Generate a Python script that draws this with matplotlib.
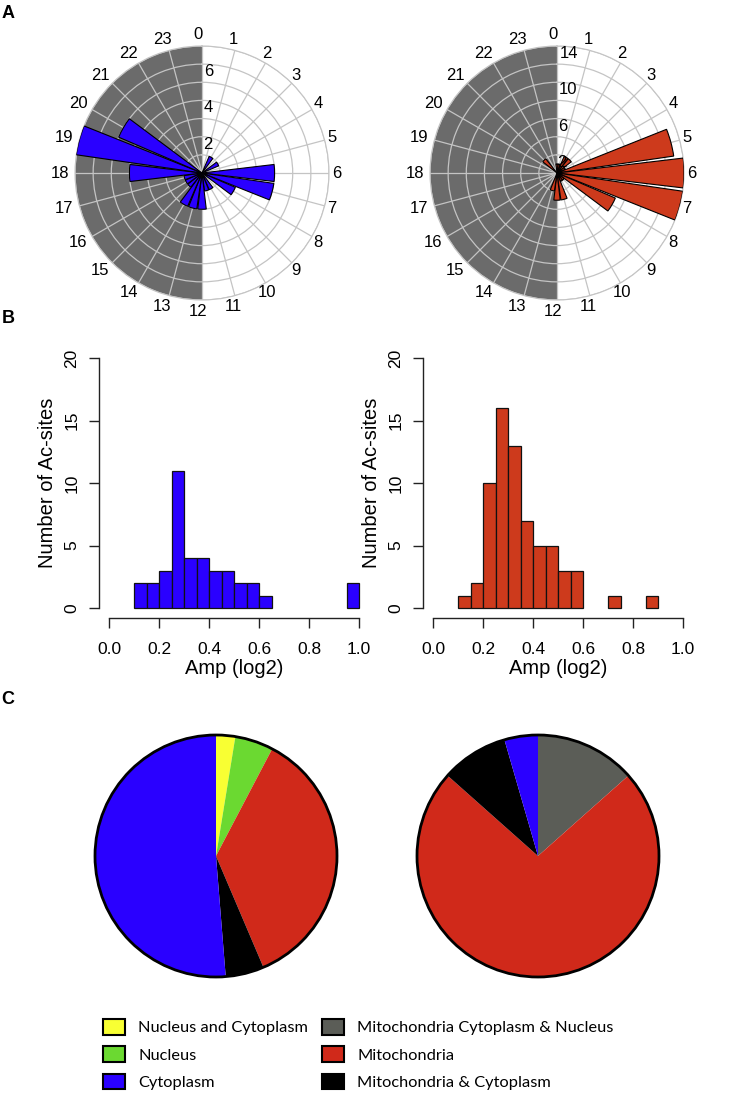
import numpy as np
import matplotlib
matplotlib.use('Agg')
import matplotlib.pyplot as plt
import matplotlib.transforms as mtransforms
from matplotlib.patches import Patch, Circle

plt.rcParams['font.family'] = ['Liberation Sans', 'DejaVu Sans']

# ── Data ──────────────────────────────────────────────────────────────────────
HOURS = list(range(24))
# Ac-sites per peak phase (hour), panel A
PHASE_CYTO = [0, 0, 1, 0, 1, 0, 4, 4, 2, 0, 1, 1, 2, 2, 2, 1, 1, 1, 4, 7, 5, 0, 0, 0]
PHASE_MITO = [1, 1, 2, 2, 1, 13, 14, 14, 7, 1, 1, 3, 3, 2, 0, 0, 0, 0, 0, 0, 0, 2, 0, 0]

# amplitude histogram, panel B (bins 0.05 wide, left edges)
BIN_LEFT = [0.10, 0.15, 0.20, 0.25, 0.30, 0.35, 0.40, 0.45, 0.50,
            0.55, 0.60, 0.65, 0.70, 0.75, 0.80, 0.85, 0.90, 0.95]
AMP_CYTO = [2, 2, 3, 11, 4, 4, 3, 3, 2, 2, 1, 0, 0, 0, 0, 0, 0, 2]
AMP_MITO = [1, 2, 10, 16, 13, 7, 5, 5, 3, 3, 0, 0, 1, 0, 0, 1, 0, 0]

# localisation, panel C (clockwise from 12 o'clock)
PIE_CYTO_LABELS = ['Nucleus and Cytoplasm', 'Nucleus', 'Mitochondria',
                   'Mitochondria & Cytoplasm', 'Cytoplasm']
PIE_CYTO = [1, 2, 14, 2, 20]
PIE_MITO_LABELS = ['Mitochondria Cytoplasm & Nucleus', 'Mitochondria',
                   'Mitochondria & Cytoplasm', 'Cytoplasm']
PIE_MITO = [9, 49, 6, 3]

LEGEND_ORDER = ['Nucleus and Cytoplasm', 'Nucleus', 'Cytoplasm',
                'Mitochondria Cytoplasm & Nucleus', 'Mitochondria',
                'Mitochondria & Cytoplasm']
LOC_COLORS = {
    'Nucleus and Cytoplasm': '#f8ff33',
    'Nucleus': '#6bd931',
    'Cytoplasm': '#2a00ff',
    'Mitochondria Cytoplasm & Nucleus': '#5b5d57',
    'Mitochondria': '#d0291a',
    'Mitochondria & Cytoplasm': '#000000',
}

C_BLUE = '#2a00ff'
C_RED = '#cd3a1c'
C_NIGHT = '#6b6b6b'
C_GRID = '#c4c4c4'

W, H = 735, 1097
fig = plt.figure(figsize=(W / 100, H / 100), dpi=100)
fig.patch.set_facecolor('white')


def px_rect(x0, y_top, w, h):
    """pixel box (from top-left) -> figure fraction rect"""
    return [x0 / W, 1 - (y_top + h) / H, w / W, h / H]


# ── A: rose plots ─────────────────────────────────────────────────────────────
def rose(cx, cy, R, counts, rmax, rings, ring_labels, color):
    ax = fig.add_axes(px_rect(cx - R, cy - R, 2 * R, 2 * R), projection='polar')
    ax.set_theta_zero_location('N')
    ax.set_theta_direction(-1)
    theta = np.array(HOURS) * 2 * np.pi / 24
    ax.set_ylim(0, rmax)
    # night half (12-24 h)
    ax.bar(1.5 * np.pi, rmax, width=np.pi, bottom=0, color=C_NIGHT,
           linewidth=0, zorder=0.5)
    counts = np.array(counts)
    keep = counts > 0
    ax.bar(theta[keep], counts[keep], width=0.9 * 2 * np.pi / 24, bottom=0,
           color=color, edgecolor='black', linewidth=0.8, zorder=3)
    ax.set_xticks(theta)
    ax.set_xticklabels([])
    ax.set_yticks(rings)
    ax.set_yticklabels([])
    ax.grid(color=C_GRID, lw=0.9)
    ax.spines['polar'].set_color(C_GRID)
    ax.tick_params(length=0)
    shifted = mtransforms.offset_copy(ax.transData, fig=fig, x=-4, y=0,
                                      units='dots')
    for t, h in zip(theta, HOURS):
        ax.text(t, rmax * 1.09, str(h), ha='center', va='center',
                fontsize=12, clip_on=False, transform=shifted)
    for v in ring_labels:
        ax.text(0.02, v, str(v), ha='left', va='top', fontsize=12, zorder=4)
    return ax


rose(202, 173, 127, PHASE_CYTO, 7, [1, 2, 3, 4, 5, 6, 7], [2, 4, 6], C_BLUE)
rose(557, 173, 127, PHASE_MITO, 14, [2, 4, 6, 8, 10, 12, 14], [2, 6, 10, 14], C_RED)


# ── B: amplitude histograms ───────────────────────────────────────────────────
def hist(x0, counts, color):
    ax = fig.add_axes(px_rect(x0, 348, 270, 270))
    counts = np.array(counts)
    left = np.array(BIN_LEFT)
    keep = counts > 0
    ax.bar(left[keep], counts[keep], width=0.05, align='edge', color=color,
           edgecolor='#111111', linewidth=0.9)
    ax.set_xlim(-0.04, 1.04)
    ax.set_ylim(-0.8, 20.8)
    for s in ['top', 'right']:
        ax.spines[s].set_visible(False)
    ax.spines['left'].set_bounds(0, 20)
    ax.spines['bottom'].set_bounds(0, 1)
    for s in ['left', 'bottom']:
        ax.spines[s].set_color('#222222')
        ax.spines[s].set_linewidth(1)
    ax.set_xticks([0, 0.2, 0.4, 0.6, 0.8, 1.0])
    ax.set_xticklabels(['0.0', '0.2', '0.4', '0.6', '0.8', '1.0'])
    ax.set_yticks([0, 5, 10, 15, 20])
    ax.tick_params(length=7, width=1, color='#222222', labelsize=12.5)
    ax.tick_params(axis='x', pad=10)
    ax.tick_params(axis='y', pad=7)
    for lab in ax.get_yticklabels():
        lab.set_rotation(90)
        lab.set_va('center')
    ax.set_xlabel('Amp (log2)', fontsize=14.5)
    ax.xaxis.set_label_coords(0.5, -0.152)
    ax.set_ylabel('Number of Ac-sites', fontsize=14.5)
    ax.yaxis.set_label_coords(-0.155, 0.5)
    ax.set_facecolor('none')
    return ax


hist(99, AMP_CYTO, C_BLUE)
hist(423, AMP_MITO, C_RED)


# ── C: localisation pies ─────────────────────────────────────────────────────
def pie(cx, cy, R, vals, labels):
    ax = fig.add_axes(px_rect(cx - R, cy - R, 2 * R, 2 * R))
    ax.pie(vals, colors=[LOC_COLORS[l] for l in labels], startangle=90,
           counterclock=False, radius=1, wedgeprops=dict(linewidth=0))
    ax.add_patch(Circle((0, 0), 1, fill=False, edgecolor='black', lw=2,
                        clip_on=False))
    ax.set_xlim(-1, 1)
    ax.set_ylim(-1, 1)
    ax.set_aspect('equal')
    ax.axis('off')


pie(216, 856, 121, PIE_CYTO, PIE_CYTO_LABELS)
pie(538, 856, 121, PIE_MITO, PIE_MITO_LABELS)

handles = [Patch(facecolor=LOC_COLORS[l], edgecolor='black', linewidth=1.5)
           for l in LEGEND_ORDER]
fig.legend(handles, LEGEND_ORDER, ncol=2, loc='upper left',
           bbox_to_anchor=(103 / W, 1 - 1019 / H), frameon=False,
           prop={'family': 'Lato', 'size': 11.8}, handlelength=1.34,
           handleheight=1.1, handletextpad=0.8, columnspacing=0.85,
           labelspacing=0.66, borderpad=0, borderaxespad=0)

# panel letters
for lbl, x, y in [('A', 8, 14), ('B', 8, 318), ('C', 8, 700)]:
    fig.text(x / W, 1 - y / H, lbl, fontsize=13, fontweight='bold',
             ha='center', va='center')

fig.savefig('out.png', dpi=100, facecolor='white')
